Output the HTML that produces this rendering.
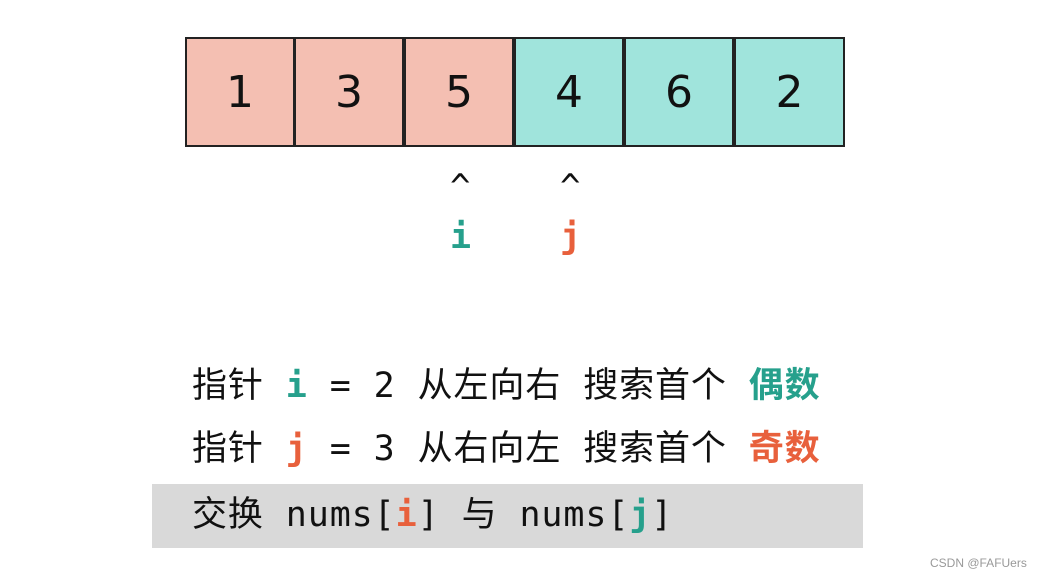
<!DOCTYPE html>
<html><head><meta charset="utf-8"><style>
body{margin:0;width:1038px;height:577px;background:#fff;position:relative;overflow:hidden;font-family:"DejaVu Sans Mono","Liberation Mono","Noto Sans CJK SC",monospace}
.c{position:absolute;top:37px;width:110px;height:110px;box-sizing:border-box;border:2px solid #222;font:44px "DejaVu Sans","Noto Sans CJK SC",sans-serif;display:flex;align-items:center;justify-content:center;color:#111}
.p{background:#f4bfb2}.t{background:#a0e4dc}
.l{position:absolute;left:192px;font-size:35px;letter-spacing:0.9px;white-space:pre;color:#111;line-height:40px}
.g{color:#26a08c;font-weight:bold}.o{color:#e8603c;font-weight:bold}
.a{position:absolute;font-size:34px;color:#111}
</style></head><body>
<div class="c p" style="left:185px">1</div>
<div class="c p" style="left:294px">3</div>
<div class="c p" style="left:404px">5</div>
<div class="c t" style="left:514px">4</div>
<div class="c t" style="left:624px">6</div>
<div class="c t" style="left:734px;width:111px">2</div>
<div class="a" style="left:450px;top:167px">^</div>
<div class="a" style="left:560px;top:167px">^</div>
<div class="l g" style="left:450px;top:217px">i</div>
<div class="l o" style="left:560px;top:217px">j</div>
<div style="position:absolute;left:152px;top:484px;width:711px;height:64px;background:#d9d9d9"></div>
<div class="l" style="top:366px">指针 <span class="g">i</span> = 2 从左向右 搜索首个 <span class="g">偶数</span></div>
<div class="l" style="top:429px">指针 <span class="o">j</span> = 3 从右向左 搜索首个 <span class="o">奇数</span></div>
<div class="l" style="top:495px">交换 nums[<span class="o">i</span>] 与 nums[<span class="g">j</span>]</div>
<div style="position:absolute;left:930px;top:556px;font:12px 'Liberation Sans',sans-serif;color:#999">CSDN @FAFUers</div>
</body></html>
